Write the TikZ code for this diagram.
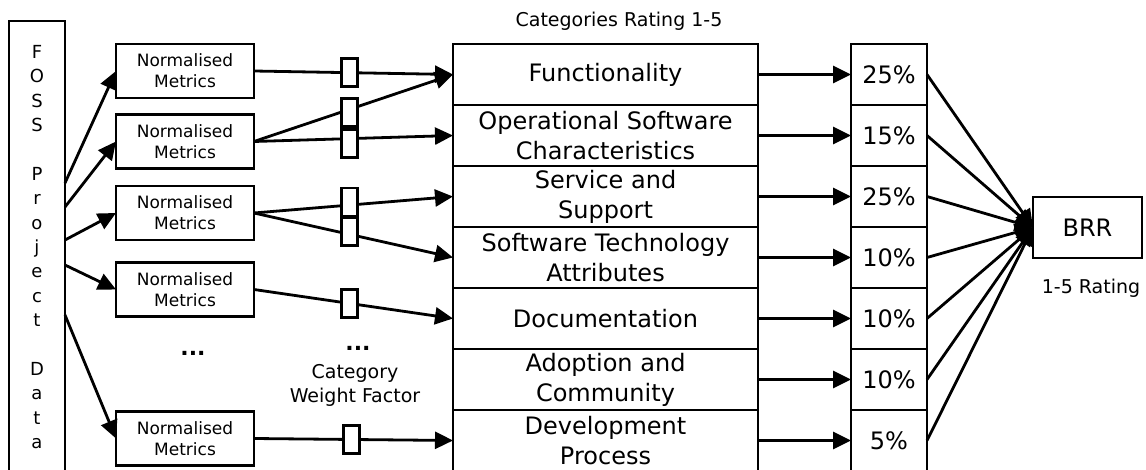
\documentclass[tikz,border=0pt]{standalone}
\usepackage{fontspec}
\setmainfont{DejaVu Sans}
\usetikzlibrary{positioning}
\usetikzlibrary{arrows.meta}

\begin{document}
\begin{tikzpicture}[
                            x=1pt, y=-1pt,
                            line width=2.8pt,
                            >={Triangle[length=18pt,width=17pt]},
                            box/.style={draw, outer sep=0pt, inner sep=0pt, align=center},
                            catbox/.style={box, minimum width=305pt, minimum height=61pt, font=\fontsize{24}{30}\selectfont},
                            pctbox/.style={box, minimum width=76pt, minimum height=61pt, font=\fontsize{24}{30}\selectfont},
                            metric/.style={box, minimum width=138pt, minimum height=54pt, font=\fontsize{17}{21}\selectfont},
                            weight/.style={draw, fill=white, minimum width=16pt, minimum height=28pt, inner sep=0pt},
                            note/.style={inner sep=0pt, align=center, font=\fontsize{19}{24}\selectfont}
                            ]
                            \useasboundingbox (0,0) rectangle (1146,470);

                            \node[box, minimum width=56pt, minimum height=452pt,
                                  font=\fontsize{18}{24.4}\selectfont] (foss) at (37,247)
                                  {F\\O\\S\\S\\[24.4pt]P\\r\\o\\j\\e\\c\\t\\[24.4pt]D\\a\\t\\a};

                            \node[metric] (nm1) at (185,71)    {Normalised\\Metrics};
                            \node[metric] (nm2) at (185,141.5) {Normalised\\Metrics};
                            \node[metric] (nm3) at (185,213)   {Normalised\\Metrics};
                            \node[metric] (nm4) at (185,289.5) {Normalised\\Metrics};
                            \node[metric] (nm5) at (185,438.5) {Normalised\\Metrics};

                            \node[catbox] (func) at (605.5,74.5) {Functionality};
                            \node[catbox, below=0pt of func]  (oper)  {Operational Software\\Characteristics};
                            \node[catbox, below=0pt of oper]  (serv)  {Service and\\Support};
                            \node[catbox, below=0pt of serv]  (tech)  {Software Technology\\Attributes};
                            \node[catbox, below=0pt of tech]  (docu)  {Documentation};
                            \node[catbox, below=0pt of docu]  (adop)  {Adoption and\\Community};
                            \node[catbox, below=0pt of adop]  (devel) {Development\\Process};

                            \node[pctbox, right=93pt of func] (p1) {25\%};
                            \node[pctbox, below=0pt of p1]    (p2) {15\%};
                            \node[pctbox, below=0pt of p2]    (p3) {25\%};
                            \node[pctbox, below=0pt of p3]    (p4) {10\%};
                            \node[pctbox, below=0pt of p4]    (p5) {10\%};
                            \node[pctbox, below=0pt of p5]    (p6) {10\%};
                            \node[pctbox, below=0pt of p6]    (p7) {5\%};

                            \node[box, minimum width=109pt, minimum height=61pt,
                                  font=\fontsize{24}{30}\selectfont] (brr) at (1087.5,227.5) {BRR};

                            \node[note, above=12pt of func, xshift=13.5pt] (title)  {Categories Rating 1-5};
                            \node[note, below=20pt of brr, xshift=3.5pt]   (rating) {1-5 Rating};
                            \node[note] (wlabel) at (355,385) {Category\\Weight Factor};
                            \node[inner sep=0pt, font=\fontsize{22}{24}\selectfont\bfseries] (dots1) at (193,353) {...};
                            \node[inner sep=0pt, font=\fontsize{22}{24}\selectfont\bfseries] (dots2) at (358,348) {...};

                            % project data -> metrics
                            \draw[->] ([yshift=-162pt]foss.north east) -- (nm1.west);
                            \draw[->] ([yshift=-186pt]foss.north east) -- (nm2.west);
                            \draw[->] ([yshift=-219pt]foss.north east) -- (nm3.west);
                            \draw[->] ([yshift=-244pt]foss.north east) -- (nm4.west);
                            \draw[->] ([yshift=-294pt]foss.north east) -- (nm5.west);

                            % metrics -> categories, through the weights
                            \draw[->] (nm1.east) -- node[weight, pos=0.48]               (w1) {} (func.west);
                            \draw[->] (nm2.east) -- node[weight, pos=0.48, yshift=-3pt]  (w2) {} (func.west);
                            \draw[->] (nm2.east) -- node[weight, pos=0.48, yshift=-5pt]  (w3) {} (oper.west);
                            \draw[->] (nm3.east) -- node[weight, pos=0.48, yshift=3pt]   (w4) {} (serv.west);
                            \draw[->] (nm3.east) -- node[weight, pos=0.48, yshift=3pt]   (w5) {} (tech.west);
                            \draw[->] (nm4.east) -- node[weight, pos=0.48]               (w6) {} (docu.west);
                            \draw[->] (nm5.east) -- node[weight, pos=0.49]               (w7) {} (devel.west);

                            % categories -> percentages
                            \draw[->] (func.east)  -- (p1.west);
                            \draw[->] (oper.east)  -- (p2.west);
                            \draw[->] (serv.east)  -- (p3.west);
                            \draw[->] (tech.east)  -- (p4.west);
                            \draw[->] (docu.east)  -- (p5.west);
                            \draw[->] (adop.east)  -- (p6.west);
                            \draw[->] (devel.east) -- (p7.west);

                            % percentages -> BRR
                            \draw[->] (p1.east) -- (brr.west);
                            \draw[->] (p2.east) -- (brr.west);
                            \draw[->] (p3.east) -- (brr.west);
                            \draw[->] (p4.east) -- (brr.west);
                            \draw[->] (p5.east) -- (brr.west);
                            \draw[->] (p6.east) -- (brr.west);
                            \draw[->] (p7.east) -- (brr.west);
                        \end{tikzpicture}
\end{document}
